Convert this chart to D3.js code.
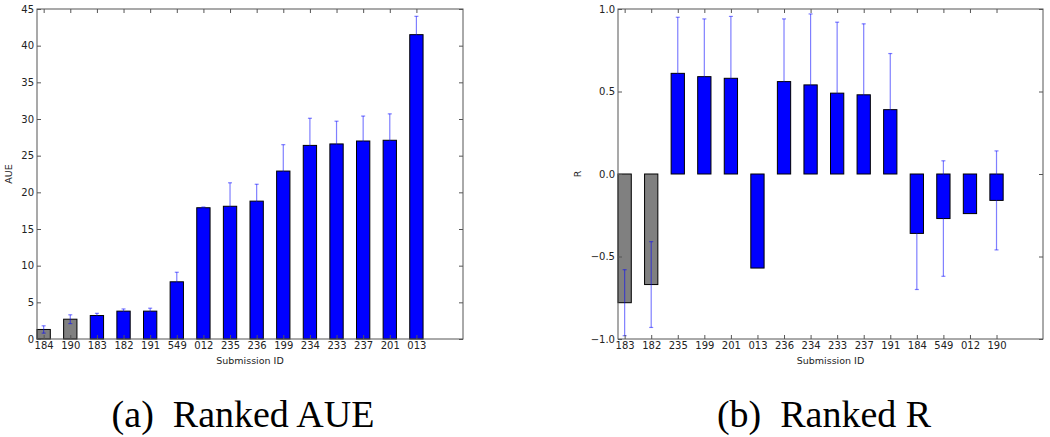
<!DOCTYPE html>
<html>
<head>
<meta charset="utf-8">
<script src="https://cdn.jsdelivr.net/npm/d3@7"></script>
<style>
  body { margin: 0; background: #fff; }
  svg { display: block; }
</style>
</head>
<body>
<script>
// Panel (a): ranked AUE
const aueIds = ['184', '190', '183', '182', '191', '549', '012', '235', '236', '199', '234', '233', '237', '201', '013'];
const aueValues = [1.3, 2.7, 3.2, 3.8, 3.8, 7.8, 17.9, 18.1, 18.8, 22.9, 26.4, 26.6, 27.0, 27.1, 41.5];
const aueErrors = [0.5, 0.6, 0.3, 0.3, 0.4, 1.3, 0.1, 3.2, 2.3, 3.6, 3.7, 3.1, 3.4, 3.6, 2.5];
const aueTicks = [0, 5, 10, 15, 20, 25, 30, 35, 40, 45];

// Panel (b): ranked R
const rIds = ['183', '182', '235', '199', '201', '013', '236', '234', '233', '237', '191', '184', '549', '012', '190'];
const rValues = [-0.78, -0.67, 0.61, 0.59, 0.58, -0.57, 0.56, 0.54, 0.49, 0.48, 0.39, -0.36, -0.27, -0.24, -0.16];
const rErrors = [0.2, 0.26, 0.34, 0.35, 0.375, 0, 0.38, 0.43, 0.43, 0.43, 0.34, 0.34, 0.35, 0, 0.3];
const rTicks = [-1.0, -0.5, 0.0, 0.5, 1.0];

// number of leading (baseline) bars drawn grey
const greyCount = 2;

const width = 1050;
const height = 437;

const svg = d3.select('body')
    .append('svg')
    .attr('width', width)
    .attr('height', height);

function drawPanel(opts) {
    const { ids, values, errors, ticks, left, right, top, bottom, yDomain, yFormat, yLabel, yLabelX } = opts;

    const x = d3.scaleLinear().domain([0, 16]).range([left, right]);
    const y = d3.scaleLinear().domain(yDomain).range([bottom, top]);
    const g = svg.append('g');

    // bars
    g.selectAll('rect.bar')
        .data(values)
        .enter()
        .append('rect')
        .attr('class', 'bar')
        .attr('x', (d, i) => x(i))
        .attr('width', x(0.5) - x(0))
        .attr('y', d => y(Math.max(d, 0)))
        .attr('height', d => Math.abs(y(d) - y(0)))
        .attr('fill', (d, i) => i < greyCount ? '#808080' : '#0000ff')
        .attr('stroke', '#000')
        .attr('stroke-width', 1);

    // error bars (half transparent blue, so they vanish on blue bars)
    const errs = values.map((v, i) => ({ i, v, e: errors[i] })).filter(d => d.e > 0);
    const eb = g.selectAll('g.err')
        .data(errs)
        .enter()
        .append('g')
        .attr('class', 'err')
        .attr('stroke', 'rgba(0,0,255,0.5)')
        .attr('stroke-width', 1.2);

    eb.append('line')
        .attr('x1', d => x(d.i + 0.25))
        .attr('x2', d => x(d.i + 0.25))
        .attr('y1', d => y(Math.max(d.v - d.e, yDomain[0])))
        .attr('y2', d => y(Math.min(d.v + d.e, yDomain[1])));

    [1, -1].forEach(s => {
        eb.append('line')
            .attr('x1', d => x(d.i + 0.25) - 2)
            .attr('x2', d => x(d.i + 0.25) + 2)
            .attr('y1', d => y(Math.max(Math.min(d.v + s * d.e, yDomain[1]), yDomain[0])))
            .attr('y2', d => y(Math.max(Math.min(d.v + s * d.e, yDomain[1]), yDomain[0])));
    });

    // frame
    g.append('rect')
        .attr('x', left)
        .attr('y', top)
        .attr('width', right - left)
        .attr('height', bottom - top)
        .attr('fill', 'none')
        .attr('stroke', '#555')
        .attr('stroke-width', 1);

    const tickPos = ids.map((d, i) => i + 0.25);

    // x axis (ticks inward)
    g.append('g')
        .attr('transform', `translate(0,${bottom})`)
        .call(d3.axisBottom(x).tickValues(tickPos).tickSizeInner(-4).tickSizeOuter(0).tickPadding(3)
            .tickFormat((d, i) => ids[i]));
    g.append('g')
        .attr('transform', `translate(0,${top})`)
        .call(d3.axisTop(x).tickValues(tickPos).tickSizeInner(-4).tickSizeOuter(0).tickFormat(''));

    // y axis
    g.append('g')
        .attr('transform', `translate(${left},0)`)
        .call(d3.axisLeft(y).tickValues(ticks).tickSizeInner(-4).tickSizeOuter(0).tickPadding(3)
            .tickFormat(yFormat));
    g.append('g')
        .attr('transform', `translate(${right},0)`)
        .call(d3.axisRight(y).tickValues(ticks).tickSizeInner(-4).tickSizeOuter(0).tickFormat(''));

    g.selectAll('.domain').remove();
    g.selectAll('.tick line').attr('stroke', '#555');
    g.selectAll('.tick text')
        .attr('fill', '#222')
        .style('font-family', '"DejaVu Sans", sans-serif')
        .style('font-size', '10px');

    // x-axis label
    g.append('text')
        .attr('x', (left + right) / 2)
        .attr('y', bottom + 25)
        .attr('text-anchor', 'middle')
        .attr('fill', '#222')
        .style('font-family', '"DejaVu Sans", sans-serif')
        .style('font-size', '9.5px')
        .text('Submission ID');

    // y-axis label
    g.append('text')
        .attr('transform', `translate(${yLabelX},${(top + bottom) / 2}) rotate(-90)`)
        .attr('text-anchor', 'middle')
        .attr('fill', '#222')
        .style('font-family', '"DejaVu Sans", sans-serif')
        .style('font-size', '9.5px')
        .text(yLabel);
}

drawPanel({
    ids: aueIds, values: aueValues, errors: aueErrors, ticks: aueTicks,
    left: 37, right: 463, top: 9, bottom: 339,
    yDomain: [0, 45], yFormat: d3.format('d'), yLabel: 'AUE', yLabelX: 12
});

drawPanel({
    ids: rIds, values: rValues, errors: rErrors, ticks: rTicks,
    left: 618, right: 1043, top: 9, bottom: 339,
    yDomain: [-1, 1], yFormat: d3.format('.1f'), yLabel: 'R', yLabelX: 581
});

// sub-captions
const captions = [
    { text: '(a)\u00a0\u00a0Ranked AUE', x: 243 },
    { text: '(b)\u00a0\u00a0Ranked R', x: 824 }
];
svg.selectAll('text.caption')
    .data(captions)
    .enter()
    .append('text')
    .attr('class', 'caption')
    .attr('x', d => d.x)
    .attr('y', 427)
    .attr('text-anchor', 'middle')
    .attr('fill', '#000')
    .attr('font-family', 'Liberation Serif, DejaVu Serif, serif')
    .attr('font-size', 38)
    .text(d => d.text);
</script>
</body>
</html>
